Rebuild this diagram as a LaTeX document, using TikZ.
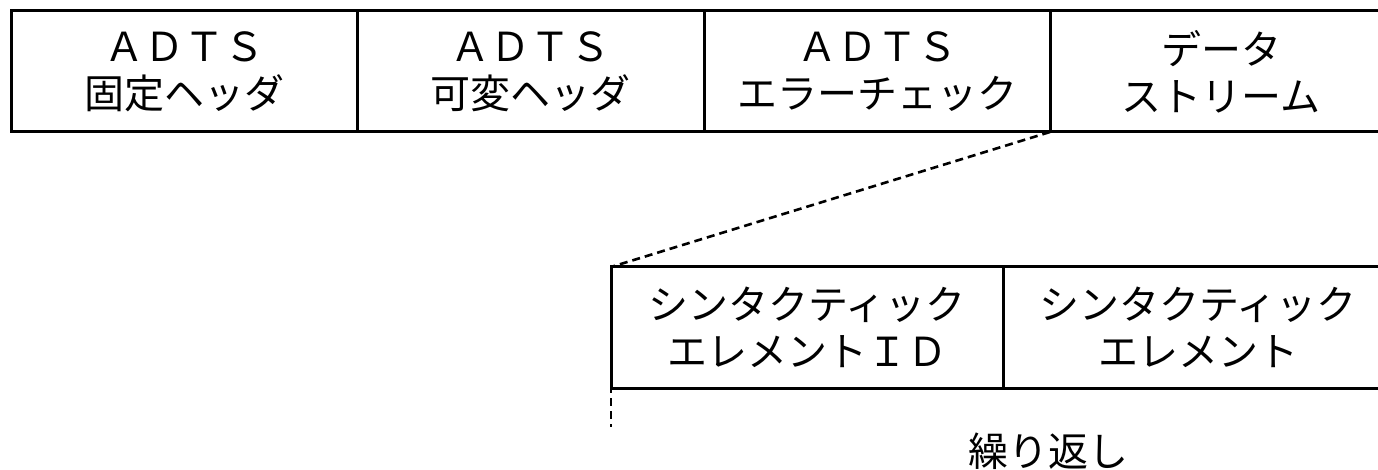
\documentclass[tikz,border=0pt]{standalone}
\usepackage{fontspec}
\newfontfamily\jp{Noto Sans CJK JP}
\begin{document}
\begin{tikzpicture}[x=1pt,y=1pt,
  cell/.style={draw, line width=3pt, minimum height=121pt, inner sep=0pt, outer sep=0pt,
    align=center, anchor=north west, font=\jp\fontsize{40}{47}\selectfont},
  dashline/.style={line width=2.6pt, dash pattern=on 8pt off 5pt},
  lbl/.style={inner sep=0pt, font=\jp\fontsize{40}{47}\selectfont}]
\useasboundingbox (0,0) rectangle (1378,469);
\clip (0,0) rectangle (1378,469);
% top row
\node[cell, minimum width=346pt] (h1) at (11,458) {ＡＤＴＳ\\固定ヘッダ};
\node[cell, minimum width=347pt] (h2) at (h1.north east) {ＡＤＴＳ\\可変ヘッダ};
\node[cell, minimum width=346pt] (h3) at (h2.north east) {ＡＤＴＳ\\エラーチェック};
\node[cell, minimum width=342pt] (h4) at (h3.north east) {データ\\ストリーム};
% bottom row
\node[cell, minimum width=392pt] (b1) at (611,202) {シンタクティック\\エレメントＩＤ};
\node[cell, minimum width=390pt] (b2) at (b1.north east) {シンタクティック\\エレメント};
% connectors
\draw[dashline] (h3.south east) -- (b1.north west);
\coordinate (rep) at (611,42);
\draw[dashline, dash phase=3pt] (b1.south west) -- (rep);
\node[lbl] (rl) at (1048,18) {繰り返し};
\end{tikzpicture}
\end{document}
